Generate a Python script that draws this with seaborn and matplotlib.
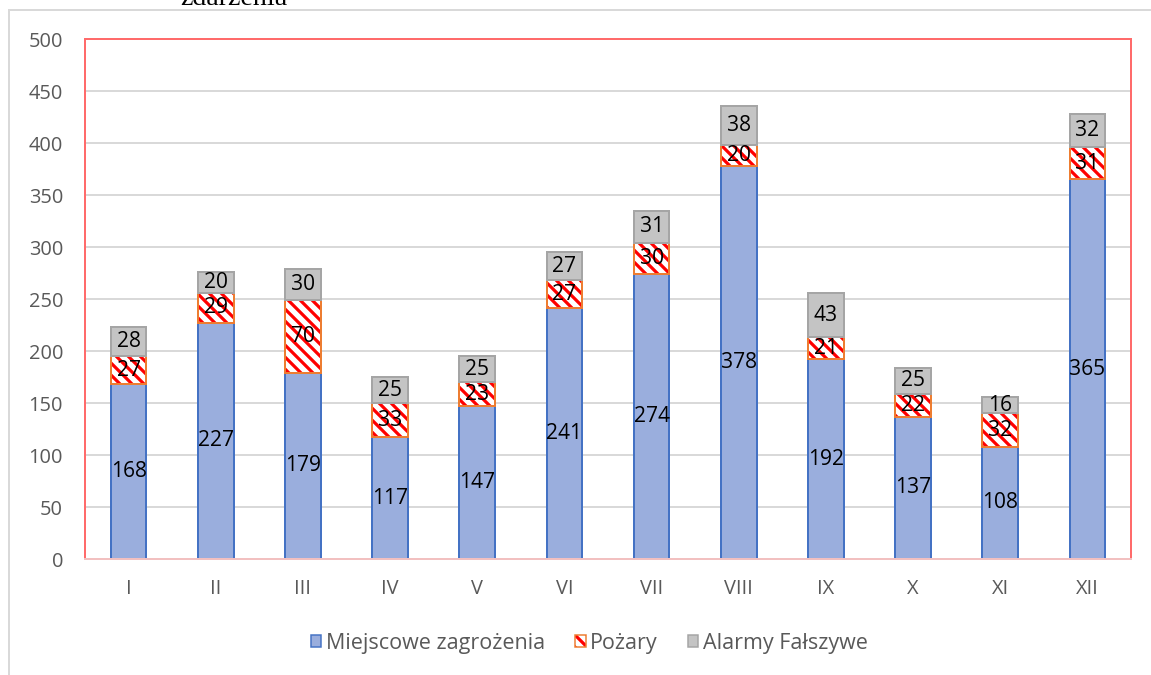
import matplotlib
matplotlib.use('Agg')
import numpy as np
import matplotlib.pyplot as plt
import seaborn as sns
from matplotlib.patches import Patch, Rectangle

# dane
miesiace = ['I', 'II', 'III', 'IV', 'V', 'VI', 'VII', 'VIII', 'IX', 'X', 'XI', 'XII']
miejscowe = [168, 227, 179, 117, 147, 241, 274, 378, 192, 137, 108, 365]
pozary = [27, 29, 70, 33, 23, 27, 30, 20, 21, 22, 32, 31]
alarmy = [28, 20, 30, 25, 25, 27, 31, 38, 43, 25, 16, 32]
etykiety = ['Miejscowe zagrożenia', 'Pożary', 'Alarmy Fałszywe']

sns.set_style('white')
plt.rcParams['font.family'] = ['Open Sans', 'DejaVu Sans']
plt.rcParams['hatch.linewidth'] = 3.2

niebieski = '#9AAEDD'
niebieski_kraw = '#4472C4'
pomaranczowy = '#ED7D31'
szary = '#C4C4C4'
szary_kraw = '#A5A5A5'
tekst = '#595959'
szer = 0.41

W, H = 1151, 675
fig = plt.figure(figsize=((W + 0.01) / 72, (H + 0.01) / 72), dpi=72)
ax = fig.add_axes([85 / W, 116 / H, 1046 / W, 520 / H])

dol2 = np.array(miejscowe)
dol3 = dol2 + np.array(pozary)

# Miejscowe zagrożenia
sns.barplot(x=miesiace, y=miejscowe, color=niebieski, saturation=1, width=szer,
            edgecolor=niebieski_kraw, linewidth=2, errorbar=None, ax=ax)
# Pożary - kreskowanie
sns.barplot(x=miesiace, y=pozary, bottom=dol2, color='white', saturation=1, width=szer,
            edgecolor='red', linewidth=0, hatch='\\\\', errorbar=None, ax=ax)
# Pożary - obramowanie
sns.barplot(x=miesiace, y=pozary, bottom=dol2, color='white', saturation=1, width=szer,
            edgecolor=pomaranczowy, linewidth=2, errorbar=None, ax=ax)
for p in ax.containers[2]:
    p.set_facecolor('none')
# Alarmy fałszywe
sns.barplot(x=miesiace, y=alarmy, bottom=dol3, color=szary, saturation=1, width=szer,
            edgecolor=szary_kraw, linewidth=2, errorbar=None, ax=ax)

for i in [0, 1, 3]:
    ax.bar_label(ax.containers[i], label_type='center', fontsize=21, color='black')

ax.set_xlim(-0.5, 11.5)
ax.set_ylim(0, 500)
ax.set_yticks(range(0, 501, 50))
ax.set_xlabel('')
ax.set_ylabel('')
ax.yaxis.grid(True, color='#D9D9D9', linewidth=2)
ax.set_axisbelow(True)
ax.tick_params(axis='both', length=0, labelsize=20, labelcolor=tekst)
ax.tick_params(axis='y', pad=22)
ax.tick_params(axis='x', pad=20)
for s in ['left', 'top', 'right']:
    ax.spines[s].set_color('#FF6B6B')
    ax.spines[s].set_linewidth(2)
ax.spines['bottom'].set_color('#F2C0C0')
ax.spines['bottom'].set_linewidth(2)

# ramka wykresu i urwany tytuł
fig.add_artist(Rectangle((9 / W, -0.02), 1.1, 1 - 10 / H + 0.02, transform=fig.transFigure,
                         fill=False, edgecolor='#D9D9D9', linewidth=2))
fig.text(180 / W, 1 - 5 / H, 'zdarzenia', family='Liberation Serif', fontsize=28,
         va='baseline', ha='left', color='black')

uchwyty = [
    Patch(facecolor=niebieski, edgecolor=niebieski_kraw, linewidth=1.5),
    (Patch(facecolor='white', edgecolor='red', linewidth=0, hatch='\\\\'),
     Patch(facecolor='none', edgecolor=pomaranczowy, linewidth=1.5)),
    Patch(facecolor=szary, edgecolor=szary_kraw, linewidth=1.5),
]
fig.legend(uchwyty, etykiety, loc='center', bbox_to_anchor=(589 / W, 32 / H), ncol=3,
           frameon=False, handlelength=0.5, handleheight=0.5, handletextpad=0.2,
           columnspacing=1.4, fontsize=21.5, labelcolor=tekst)

fig.savefig('out.png', dpi=72)
